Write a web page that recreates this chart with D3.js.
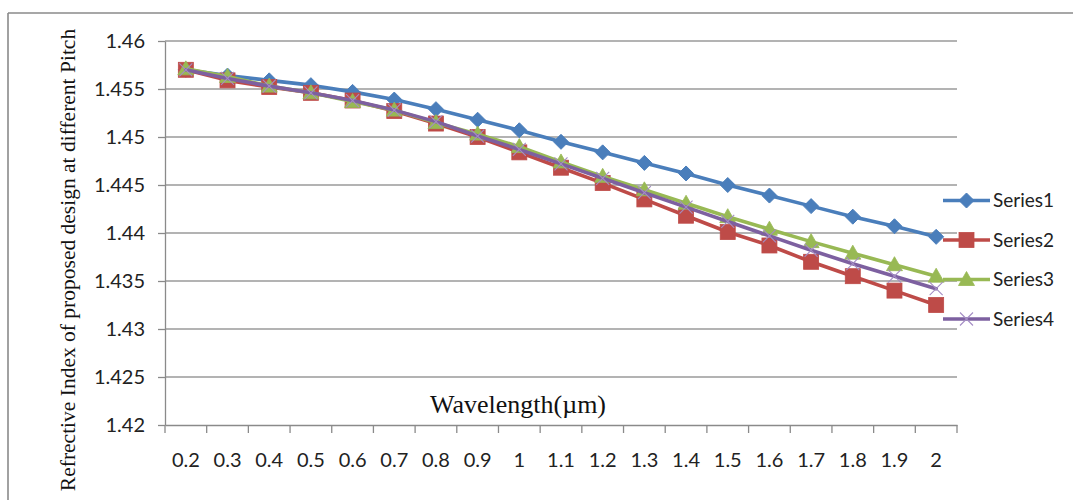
<!DOCTYPE html>
<html>
<head>
<meta charset="utf-8">
<script src="https://cdn.jsdelivr.net/npm/d3@7"></script>
<style>
  html, body { margin: 0; padding: 0; background: #fff; }
  svg { display: block; }
</style>
</head>
<body>
<svg id="chart" width="1073" height="500"></svg>
<script>
const categories = ["0.2","0.3","0.4","0.5","0.6","0.7","0.8","0.9","1","1.1","1.2","1.3","1.4","1.5","1.6","1.7","1.8","1.9","2"];
const series1 = [1.4570,1.4564,1.4559,1.4554,1.4547,1.4539,1.4529,1.4518,1.4507,1.4495,1.4484,1.4473,1.4462,1.4450,1.4439,1.4428,1.4417,1.4407,1.4396];
const series2 = [1.4570,1.4559,1.4552,1.4546,1.4538,1.4527,1.4514,1.4500,1.4484,1.4468,1.4452,1.4435,1.4418,1.4401,1.4387,1.4370,1.4355,1.4340,1.4325];
const series3 = [1.4571,1.4563,1.4553,1.4546,1.4537,1.4528,1.4515,1.4503,1.4490,1.4474,1.4459,1.4445,1.4431,1.4417,1.4404,1.4391,1.4379,1.4367,1.4355];
const series4 = [1.4570,1.4561,1.4553,1.4546,1.4538,1.4528,1.4516,1.4501,1.4487,1.4472,1.4457,1.4442,1.4427,1.4412,1.4397,1.4382,1.4368,1.4355,1.4342];
const seriesNames = ["Series1","Series2","Series3","Series4"];
const yTicks = [1.42,1.425,1.43,1.435,1.44,1.445,1.45,1.455,1.46];
const yTickLabels = ["1.42","1.425","1.43","1.435","1.44","1.445","1.45","1.455","1.46"];
const yTitle = "Refrective Index of proposed design at different Pitch";
const xTitle = "Wavelength(\u00b5m)";

const seriesData = [series1, series2, series3, series4];
const colors = ["#4A7EBB", "#BE4B48", "#98B954", "#7D60A0"];
const markers = ["diamond", "square", "triangle", "x"];

const svg = d3.select("#chart");
const W = 1073, H = 500;
const plot = {left: 165, right: 957, top: 41, bottom: 425};

// outer frame
svg.append("line").attr("x1", 8).attr("x2", W).attr("y1", 13).attr("y2", 13)
  .attr("stroke", "#8a8a8a").attr("stroke-width", 1.6);
svg.append("line").attr("x1", 8).attr("x2", 8).attr("y1", 13).attr("y2", H)
  .attr("stroke", "#8a8a8a").attr("stroke-width", 1.6);

const x = d3.scaleBand().domain(categories).range([plot.left, plot.right]).padding(0);
const y = d3.scaleLinear().domain([1.42, 1.46]).range([plot.bottom, plot.top]);
const cx = c => x(c) + x.bandwidth() / 2;

// gridlines
svg.append("g").selectAll("line").data(yTicks.filter(v => v > 1.42)).join("line")
  .attr("x1", plot.left).attr("x2", plot.right)
  .attr("y1", d => y(d)).attr("y2", d => y(d))
  .attr("stroke", "#9a9a9a").attr("stroke-width", 1.3);

// y axis
const yAxis = svg.append("g").attr("transform", `translate(${plot.left},0)`)
  .call(d3.axisLeft(y).tickValues(yTicks)
    .tickFormat((d, i) => yTickLabels[i]).tickSizeInner(7).tickSizeOuter(0).tickPadding(13));
yAxis.select(".domain").attr("stroke", "#8a8a8a").attr("stroke-width", 1.3);
yAxis.selectAll(".tick line").attr("stroke", "#8a8a8a").attr("stroke-width", 1.3);
yAxis.selectAll("text").attr("font-family", "Lato, sans-serif").attr("font-size", 20).attr("fill", "#222");

// x axis
const xAxis = svg.append("g").attr("transform", `translate(0,${plot.bottom})`)
  .call(d3.axisBottom(x).tickSizeInner(0).tickSizeOuter(0).tickPadding(28));
xAxis.select(".domain").attr("stroke", "#8a8a8a").attr("stroke-width", 1.3);
xAxis.selectAll(".tick line").remove();
xAxis.selectAll("text").attr("font-family", "Lato, sans-serif").attr("font-size", 20).attr("fill", "#222");
// boundary ticks between categories
const bounds = categories.map(c => x(c)).concat([plot.right]);
xAxis.append("g").selectAll("line").data(bounds).join("line")
  .attr("x1", d => d).attr("x2", d => d).attr("y1", 0).attr("y2", 8)
  .attr("stroke", "#8a8a8a").attr("stroke-width", 1.3);

// titles
svg.append("text")
  .attr("transform", `translate(75,260) rotate(-90)`)
  .attr("text-anchor", "middle")
  .attr("font-family", "'Liberation Serif', 'Times New Roman', serif")
  .attr("font-size", 21.5).attr("fill", "#111")
  .text(yTitle);
svg.append("text")
  .attr("x", 518).attr("y", 413)
  .attr("text-anchor", "middle")
  .attr("font-family", "'Liberation Serif', 'Times New Roman', serif")
  .attr("font-size", 26).attr("fill", "#111")
  .text(xTitle);

function drawMarker(g, type, color, px, py) {
  if (type === "diamond") {
    g.append("path").attr("d", `M${px},${py-7.5}L${px+7.5},${py}L${px},${py+7.5}L${px-7.5},${py}Z`)
      .attr("fill", color).attr("stroke", color).attr("stroke-width", 1);
  } else if (type === "square") {
    g.append("rect").attr("x", px - 7.5).attr("y", py - 7.5).attr("width", 15).attr("height", 15)
      .attr("fill", color).attr("stroke", color).attr("stroke-width", 0.8);
  } else if (type === "triangle") {
    g.append("path").attr("d", `M${px},${py-8}L${px+8},${py+6}L${px-8},${py+6}Z`)
      .attr("fill", color).attr("stroke", color).attr("stroke-width", 0.8);
  } else if (type === "x") {
    g.append("path").attr("d", `M${px-6.5},${py-6.5}L${px+6.5},${py+6.5}M${px-6.5},${py+6.5}L${px+6.5},${py-6.5}`)
      .attr("stroke", "#A48DC4").attr("stroke-width", 1.1).attr("fill", "none");
  }
}

const line = d3.line().x((d, i) => cx(categories[i])).y(d => y(d));

seriesData.forEach((vals, s) => {
  const g = svg.append("g");
  g.append("path").datum(vals).attr("d", line)
    .attr("fill", "none").attr("stroke", colors[s]).attr("stroke-width", 3.6)
    .attr("stroke-linejoin", "round").attr("stroke-linecap", "round");
  vals.forEach((v, i) => drawMarker(g, markers[s], colors[s], cx(categories[i]), y(v)));
});

// legend
const legendY = [200.5, 240, 279.5, 319];
seriesNames.forEach((name, s) => {
  const g = svg.append("g");
  const ly = legendY[s];
  g.append("line").attr("x1", 943).attr("x2", 990).attr("y1", ly).attr("y2", ly)
    .attr("stroke", colors[s]).attr("stroke-width", 3.6);
  drawMarker(g, markers[s], colors[s], 966.5, ly);
  g.append("text").attr("x", 993).attr("y", ly).attr("dy", "0.36em")
    .attr("font-family", "Lato, sans-serif").attr("font-size", 19).attr("fill", "#222")
    .text(name);
});
</script>
</body>
</html>
